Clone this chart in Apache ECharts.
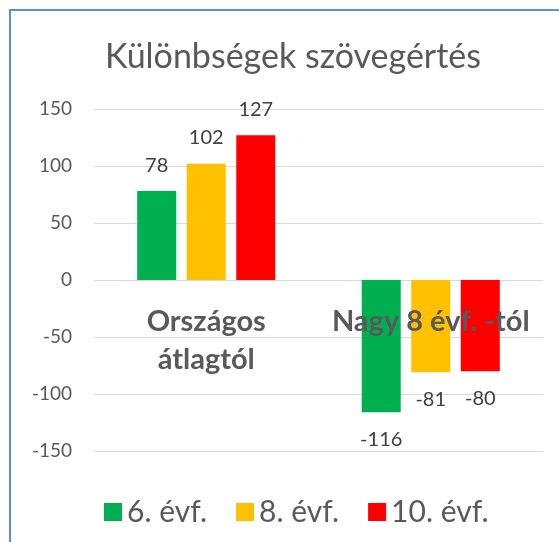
<!DOCTYPE html>
<html><head><meta charset="utf-8">
<script src="https://cdn.jsdelivr.net/npm/echarts@6/dist/echarts.min.js"></script>
<style>html,body{margin:0;padding:0;background:#fff}#c{width:559px;height:542px}</style>
</head><body><div id="c"></div>
<script>
const categories = ['Országos\nátlagtól', 'Nagy 8 évf. -tól'];
const seriesNames = ['6. évf.', '8. évf.', '10. évf.'];
const values6 = [78, -116];
const values8 = [102, -81];
const values10 = [127, -80];
const colors = ['#00B050', '#FFC000', '#FF0000'];
const yTicks = { min: -150, max: 150, interval: 50 };
const titleText = 'Különbségek szövegértés';

const FONT = 'Lato';
const allVals = [values6, values8, values10];
function mk(vals) {
  return vals.map(v => ({
    value: v,
    label: { position: v >= 0 ? 'top' : 'bottom', distance: v >= 0 ? 16 : 17 }
  }));
}
const GRID_TOP = 109, GRID_BOTTOM = 91, H = 542;
const plotH = H - GRID_TOP - GRID_BOTTOM;
const zeroOffset = -plotH * (0 - yTicks.min) / (yTicks.max - yTicks.min);

const chart = echarts.init(document.getElementById('c'), null, { renderer: 'canvas' });
chart.setOption({
  animation: false,
  backgroundColor: '#fff',
  textStyle: { fontFamily: FONT },
  title: {
    text: titleText, left: 288, textAlign: 'center', top: 35,
    textStyle: { fontFamily: FONT, fontSize: 34, fontWeight: 'normal', color: '#595959' }
  },
  graphic: [{
    type: 'rect', shape: { x: 10, y: 10, width: 700, height: 700 },
    style: { fill: 'none', stroke: '#5B8BD9', lineWidth: 2 }, silent: true
  }],
  legend: {
    data: seriesNames, left: 99, top: 492, itemWidth: 18, itemHeight: 18, itemGap: 29,
    icon: 'rect',
    textStyle: { fontFamily: FONT, fontSize: 30, color: '#595959' }
  },
  grid: { left: 94, right: 16, top: GRID_TOP, bottom: GRID_BOTTOM, containLabel: false, outerBoundsMode: 'none' },
  xAxis: {
    type: 'category', data: categories, z: 10, position: 'bottom', offset: zeroOffset,
    axisLine: { show: false, onZero: false },
    axisTick: { show: false },
    axisLabel: { fontFamily: FONT, fontSize: 29, fontWeight: 'bold', color: '#595959', margin: 23, lineHeight: 38, interval: 0 },
    splitLine: { show: false }
  },
  yAxis: {
    type: 'value', min: yTicks.min, max: yTicks.max, interval: yTicks.interval,
    axisLine: { show: false }, axisTick: { show: false },
    axisLabel: { fontFamily: FONT, fontSize: 19, color: '#595959', margin: 22 },
    splitLine: { lineStyle: { color: '#D9D9D9', width: 1 } }
  },
  series: seriesNames.map((n, i) => ({
    name: n, type: 'bar', data: mk(allVals[i]),
    barWidth: 39, barGap: '27%',
    itemStyle: { color: colors[i] },
    label: { show: true, fontFamily: FONT, fontSize: 20, color: '#404040' }
  }))
});
</script></body></html>
